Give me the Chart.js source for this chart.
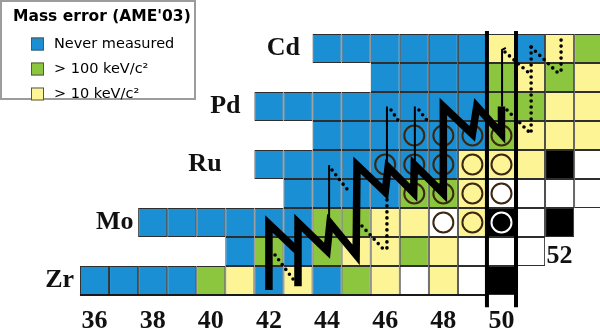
<!DOCTYPE html>
<html>
<head>
<meta charset="utf-8">
<script src="https://cdn.jsdelivr.net/npm/chart.js@4.4.0/dist/chart.umd.min.js"></script>
<style>
  html, body { margin: 0; padding: 0; background: #ffffff; }
  canvas { display: block; }
</style>
</head>
<body>
<canvas id="chart" width="600" height="333"></canvas>
<script>
// Rows of the nuclide chart: proton number Z and neutron number of the first cell
const rowZ      = [40, 41, 42, 43, 44, 45, 46, 47, 48];
const rowFirstN = [36, 41, 38, 43, 42, 44, 42, 46, 44];
// Mass-error class of each cell, left to right:
// B never measured, G > 100 keV/c2, Y > 10 keV/c2, W better than that, K stable
const rowCells = [
  'BBBBGYBYBGYWYWK',
  'BGBGYYGYWWW',
  'BBBBBBGGYYWYKWK',
  'BBBBGGYWWWW',
  'BBBBBBBYYYKW',
  'BBBBBBGYYY',
  'BBBBBBBBGGYY',
  'BBBBGYGY',
  'BBBBBBYBYG'
];

// Nuclides marked with a circle (N, Z)
const markedN = [47, 48, 49, 50, 46, 47, 48, 49, 50, 47, 48, 49, 50, 48, 49, 50];
const markedZ = [45, 45, 45, 45, 44, 44, 44, 44, 44, 43, 43, 43, 43, 42, 42, 42];

// Element names written beside their rows
const elementNames = ['Zr', 'Mo', 'Ru', 'Pd', 'Cd'];
const elementZ     = [40, 42, 44, 46, 48];

// Neutron-number tick labels under the chart
const nTicks = [36, 38, 40, 42, 44, 46, 48, 50];

// Legend entries
const legendCodes  = ['B', 'G', 'Y'];
const legendLabels = ['Never measured', '> 100 keV/c\u00B2', '> 10 keV/c\u00B2'];

// Reaction path (N, Z): proton captures go straight up, beta decays go down-right
const pathLowN  = [42, 42, 43];
const pathLowZ  = [39.67, 41.95, 41.0];
const pathMainN = [43, 43, 44, 44.1, 45, 45.03, 46, 46.1, 46.98, 47, 48, 48, 49, 49.15, 50, 50];
const pathMainZ = [39.8, 42, 41.03, 41.98, 40.88, 43.98, 43.05, 43.91, 43.02, 44, 43, 46, 45.05, 46, 45.05, 46];

// Branches drawn with thin lines
const branches = [
  { n: [44.07, 44.07], z: [41.98, 43.98] },
  { n: [46.06, 46.06], z: [44.0, 46.0] },
  { n: [47.02, 47.02], z: [44.0, 46.0] },
  { n: [50.02, 50.02, 50.15], z: [46.0, 47.95, 48.02] }
];

// Weaker branches drawn as dotted lines
const dotted = [
  { n: [42.21, 42.83], z: [40.88, 40.05] },
  { n: [44.17, 44.79], z: [43.81, 43.02] },
  { n: [46.06, 46.06], z: [42.78, 41.05] },
  { n: [45.2, 46.03],  z: [41.88, 40.98] },
  { n: [46.2, 46.51],  z: [45.88, 45.43] },
  { n: [47.16, 47.51], z: [45.88, 45.43] },
  { n: [50.12, 51.02], z: [47.88, 47.09] },
  { n: [51.02, 51.02], z: [48.05, 45.12] },
  { n: [51.02, 52.01], z: [48.05, 47.09] },
  { n: [52.05, 52.05], z: [48.29, 47.09] },
  { n: [50.19, 51.02], z: [45.88, 45.05] }
];

// N = 50 shell closure boundaries
const shellN = [49.5, 50.5];
const shellZ = [48.6, 39.08];

const COLORS = { B: '#1a8fd3', G: '#8cc63f', Y: '#fdf495', W: '#ffffff', K: '#000000' };

const pts = (ns, zs) => ns.map((n, i) => ({ x: n, y: zs[i] }));

// One bar dataset per colour, each cell a floating bar one proton high
const cellSets = {};
Object.keys(COLORS).forEach(c => { cellSets[c] = []; });
rowZ.forEach((z, i) => {
  [...rowCells[i]].forEach((c, k) => {
    cellSets[c].push({ x: rowFirstN[i] + k, y: [z - 0.5, z + 0.5] });
  });
});

const datasets = [];
Object.keys(cellSets).forEach(c => {
  datasets.push({
    type: 'bar',
    data: cellSets[c],
    backgroundColor: COLORS[c],
    borderColor: '#2e2e2e',
    borderWidth: 1,
    borderSkipped: false,
    grouped: false,
    barPercentage: 1,
    categoryPercentage: 1,
    inflateAmount: 0,
    order: 5
  });
});

datasets.push({
  type: 'scatter',
  data: pts(markedN, markedZ),
  pointRadius: 10,
  pointBorderWidth: 2,
  pointBackgroundColor: 'rgba(0,0,0,0)',
  pointBorderColor: markedN.map((n, i) => (n === 50 && markedZ[i] === 42) ? '#ffffff' : '#3b2712'),
  order: 3
});

const lineBase = { type: 'line', pointRadius: 0, fill: false, tension: 0, borderColor: '#000000' };

dotted.forEach(d => datasets.push(Object.assign({}, lineBase, {
  data: pts(d.n, d.z), borderWidth: 3.6, borderDash: [0, 6], borderCapStyle: 'round', order: 2
})));

branches.forEach(b => datasets.push(Object.assign({}, lineBase, {
  data: pts(b.n, b.z), borderWidth: 2, order: 2
})));

[[pathLowN, pathLowZ], [pathMainN, pathMainZ]].forEach(([ns, zs]) => datasets.push(Object.assign({}, lineBase, {
  data: pts(ns, zs), borderWidth: 7.5, borderJoinStyle: 'miter', borderCapStyle: 'butt', order: 1
})));

shellN.forEach(n => datasets.push(Object.assign({}, lineBase, {
  data: pts([n, n], shellZ), borderWidth: 4, order: 0
})));

// Heavier base line under the Zr row
datasets.push(Object.assign({}, lineBase, {
  data: pts([35.5, 49.5], [39.5, 39.5]), borderWidth: 2, borderColor: '#1a1a1a', order: 4
}));

// Text drawn in data coordinates: element names, N labels, legend box
const labelCentreN = [34.8, 36.7, 39.8, 40.5, 42.5];
const textPlugin = {
  id: 'chartText',
  afterDraw(chart) {
    const ctx = chart.ctx;
    const xs = chart.scales.x, ys = chart.scales.y;
    ctx.save();
    ctx.fillStyle = '#111111';
    ctx.textAlign = 'center';
    ctx.textBaseline = 'middle';
    ctx.font = 'bold 26px "Liberation Serif"';
    elementNames.forEach((s, i) => {
      ctx.fillText(s, xs.getPixelForValue(labelCentreN[i]), ys.getPixelForValue(elementZ[i]));
    });
    nTicks.forEach(n => {
      ctx.fillText(String(n), xs.getPixelForValue(n), ys.getPixelForValue(38.6));
    });
    ctx.fillText('52', xs.getPixelForValue(52), ys.getPixelForValue(40.85));

    // legend
    ctx.fillStyle = '#ffffff';
    ctx.fillRect(0, 0, 195, 99);
    ctx.strokeStyle = '#9c9c9c';
    ctx.lineWidth = 2;
    ctx.strokeRect(1, 1, 194, 98);
    ctx.textAlign = 'left';
    ctx.fillStyle = '#000000';
    ctx.font = 'bold 15.5px "DejaVu Sans"';
    ctx.fillText("Mass error (AME'03)", 13, 17);
    ctx.font = '14.5px "DejaVu Sans"';
    legendCodes.forEach((c, i) => {
      const y = 44 + i * 25;
      ctx.fillStyle = COLORS[c];
      ctx.fillRect(31, y - 6.5, 13, 13);
      ctx.strokeStyle = '#555555';
      ctx.lineWidth = 1;
      ctx.strokeRect(31.5, y - 6, 12, 12);
      ctx.fillStyle = '#000000';
      ctx.fillText(legendLabels[i], 54, y);
    });
    ctx.restore();
  }
};

new Chart(document.getElementById('chart'), {
  type: 'bar',
  data: { datasets },
  options: {
    responsive: false,
    devicePixelRatio: 1,
    animation: false,
    events: [],
    layout: { padding: 0, autoPadding: false },
    plugins: { legend: { display: false }, tooltip: { enabled: false } },
    scales: {
      x: { type: 'linear', min: 32.749, max: 53.389, offset: false, display: false,
           ticks: { stepSize: 1, includeBounds: false } },
      y: { type: 'linear', min: 38.19, max: 49.672, display: false,
           ticks: { stepSize: 1, includeBounds: false } }
    }
  },
  plugins: [textPlugin]
});
</script>
</body>
</html>
